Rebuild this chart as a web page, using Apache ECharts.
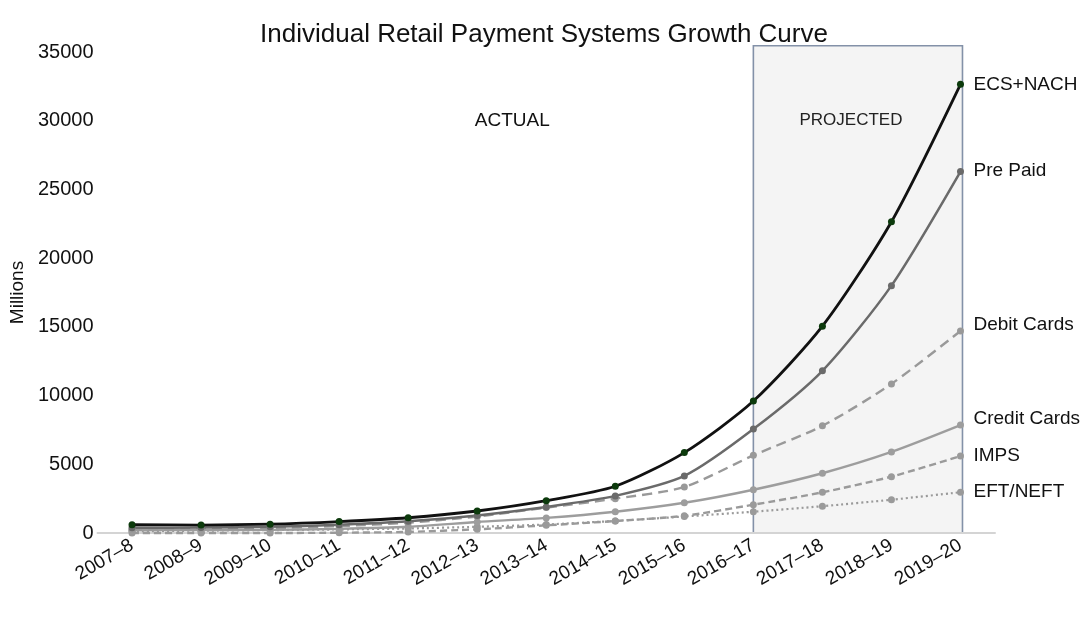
<!DOCTYPE html>
<html>
<head>
<meta charset="utf-8">
<script src="https://cdn.jsdelivr.net/npm/echarts@6/dist/echarts.min.js"></script>
<style>
html,body{margin:0;padding:0;background:#fff;}
#chart{width:1088px;height:619px;}
</style>
</head>
<body>
<div id="chart"></div>
<script>
const categories = ['2007–8','2008–9','2009–10','2010–11','2011–12','2012–13','2013–14','2014–15','2015–16','2016–17','2017–18','2018–19','2019–20'];
const yTicks = [0,5000,10000,15000,20000,25000,30000,35000];
const ecsNach     = [600, 580, 640, 830, 1110, 1600, 2350, 3400, 5850, 9600, 15050, 22650, 32650];
const prePaid     = [380, 400, 450, 600, 850, 1280, 1900, 2700, 4150, 7560, 11800, 18000, 26300];
const debitCards  = [250, 300, 350, 500, 750, 1200, 1850, 2500, 3350, 5650, 7800, 10850, 14700];
const creditCards = [200, 220, 230, 300, 450, 800, 1100, 1550, 2200, 3150, 4350, 5900, 7850];
const imps        = [0, 0, 0, 20, 80, 270, 560, 870, 1250, 2060, 2960, 4100, 5600];
const eftNeft     = [130, 170, 210, 260, 330, 450, 620, 880, 1200, 1550, 1950, 2420, 2970];
const projectedStart = '2016–17';
const projectedEnd = '2019–20';
const projectedTop = 35450;

const FONT = 'Liberation Sans, Arial, Helvetica, sans-serif';
const chart = echarts.init(document.getElementById('chart'));

function mk(name, data, color, width, type, symColor, labelOffset, extra) {
  return Object.assign({
    name: name,
    type: 'line',
    data: data,
    smooth: 0.25,
    symbol: 'circle',
    symbolSize: 7,
    clip: false,
    lineStyle: { color: color, width: width, type: type },
    itemStyle: { color: symColor || color },
    endLabel: {
      show: true,
      formatter: '{a}',
      color: '#111',
      fontFamily: FONT,
      fontSize: 19,
      distance: 13,
      offset: labelOffset || [0, 0]
    },
    emphasis: { disabled: true },
    z: 3
  }, extra || {});
}

const option = {
  animation: false,
  backgroundColor: '#fff',
  title: {
    text: 'Individual Retail Payment Systems Growth Curve',
    left: 'center',
    top: 17,
    textStyle: { fontFamily: FONT, fontSize: 26, fontWeight: 'normal', color: '#111' }
  },
  grid: { left: 91, right: 93, top: 52, bottom: 86 },
  xAxis: {
    type: 'category',
    data: categories,
    boundaryGap: true,
    axisLine: { show: true, lineStyle: { color: '#d4d4d4', width: 2 } },
    axisTick: { show: false },
    axisLabel: { rotate: 30, fontFamily: FONT, fontSize: 19, color: '#111', margin: 11, interval: 0 }
  },
  yAxis: {
    type: 'value',
    min: yTicks[0],
    max: yTicks[yTicks.length - 1],
    interval: yTicks[1] - yTicks[0],
    name: 'Millions',
    nameLocation: 'middle',
    nameGap: 64,
    nameTextStyle: { fontFamily: FONT, fontSize: 19, color: '#111' },
    axisLine: { show: false },
    axisTick: { show: false },
    splitLine: { show: false },
    axisLabel: { fontFamily: FONT, fontSize: 20, color: '#111', margin: 4, formatter: function (v) { return String(v); } }
  },
  series: [
    mk('EFT/NEFT', eftNeft, '#9a9a9a', 2.2, [2, 3], '#9a9a9a', [0, 0]),
    mk('IMPS', imps, '#9a9a9a', 2.4, [7, 4], '#9a9a9a', [0, 0]),
    mk('Credit Cards', creditCards, '#9d9d9d', 2.4, 'solid', '#9d9d9d', [0, -6]),
    mk('Debit Cards', debitCards, '#999999', 2.4, [10, 6], '#999999', [0, -6]),
    mk('Pre Paid', prePaid, '#6a6a6a', 2.5, 'solid', '#6a6a6a', [0, -1]),
    mk('ECS+NACH', ecsNach, '#111111', 2.8, 'solid', '#0c3a0c', [0, 0], { z: 4 })
  ]
};
chart.setOption(option);

const bx0 = chart.convertToPixel({ xAxisIndex: 0 }, projectedStart);
const bx1 = chart.convertToPixel({ xAxisIndex: 0 }, projectedEnd);
const byTop = chart.convertToPixel({ yAxisIndex: 0 }, projectedTop);
const byBot = chart.convertToPixel({ yAxisIndex: 0 }, 0);
const actualX = chart.convertToPixel({ xAxisIndex: 0 }, '2012–13') + 35;
const labelY = chart.convertToPixel({ yAxisIndex: 0 }, 30000);

chart.setOption({
  graphic: [
    {
      type: 'rect', z: 0, silent: true,
      shape: { x: bx0, y: byTop, width: bx1 - bx0 + 2, height: byBot - byTop },
      style: { fill: '#f4f4f4', stroke: '#8391a8', lineWidth: 1.6 }
    },
    {
      type: 'text', z: 1, silent: true,
      x: (bx0 + bx1) / 2 - 6, y: labelY,
      style: { text: 'PROJECTED', font: '17px ' + FONT, fill: '#222', align: 'center', verticalAlign: 'middle' }
    },
    {
      type: 'text', z: 1, silent: true,
      x: actualX, y: labelY,
      style: { text: 'ACTUAL', font: '19px ' + FONT, fill: '#111', align: 'center', verticalAlign: 'middle' }
    }
  ]
});
</script>
</body>
</html>
